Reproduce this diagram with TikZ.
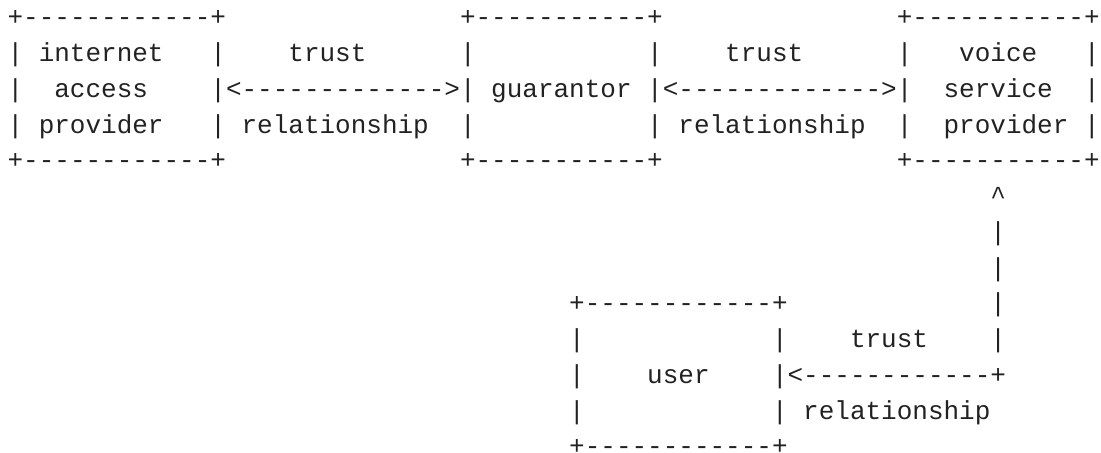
\documentclass[tikz,border=0pt]{standalone}
\usepackage{fontspec}
\setmonofont{Liberation Mono}
\usepackage{tikz}
\definecolor{ink}{RGB}{34,34,34}
% one unit = one character cell (x) and one text line (y, downwards)
\tikzset{
  grid/.style={x=7.8pt, y=-17.875pt},
  ascii/.style={font=\ttfamily\fontsize{13pt}{16pt}\selectfont, text=ink,
    inner sep=0pt, anchor=base west}
}
\newcommand{\PutRuns}[1]{% #1="col/row/text,..."
  \foreach \cc/\rr/\glyphs in {#1}{%
    \node[ascii] (t\rr-\cc) at ({\cc+0.4615},{\rr+0.7217}) {\glyphs};
  }%
}

\begin{document}
\begin{tikzpicture}[grid]
  \useasboundingbox (0,0) rectangle (70.577,12.671);
  % top row: provider, guarantor, voice service provider
  \PutRuns{0/0/+------------+, 29/0/+-----------+, 57/0/+-----------+,
    0/1/|, 2/1/internet, 13/1/|, 18/1/trust, 29/1/|,
    41/1/|, 46/1/trust, 57/1/|, 61/1/voice, 69/1/|,
    0/2/|, 3/2/access, 13/2/|<------------->|, 31/2/guarantor,
    41/2/|<------------->|, 60/2/service, 69/2/|,
    0/3/|, 2/3/provider, 13/3/|, 15/3/relationship, 29/3/|,
    41/3/|, 43/3/relationship, 57/3/|, 60/3/provider, 69/3/|,
    0/4/+------------+, 29/4/+-----------+, 57/4/+-----------+}
  % link up from the user
  \PutRuns{63/5/\textasciicircum, 63/6/|, 63/7/|, 63/8/|}
  % user box
  \PutRuns{36/8/+------------+,
    36/9/|, 49/9/|, 54/9/trust, 63/9/|,
    36/10/|, 41/10/user, 49/10/|<------------+,
    36/11/|, 49/11/|, 51/11/relationship,
    36/12/+------------+}
\end{tikzpicture}
\end{document}
